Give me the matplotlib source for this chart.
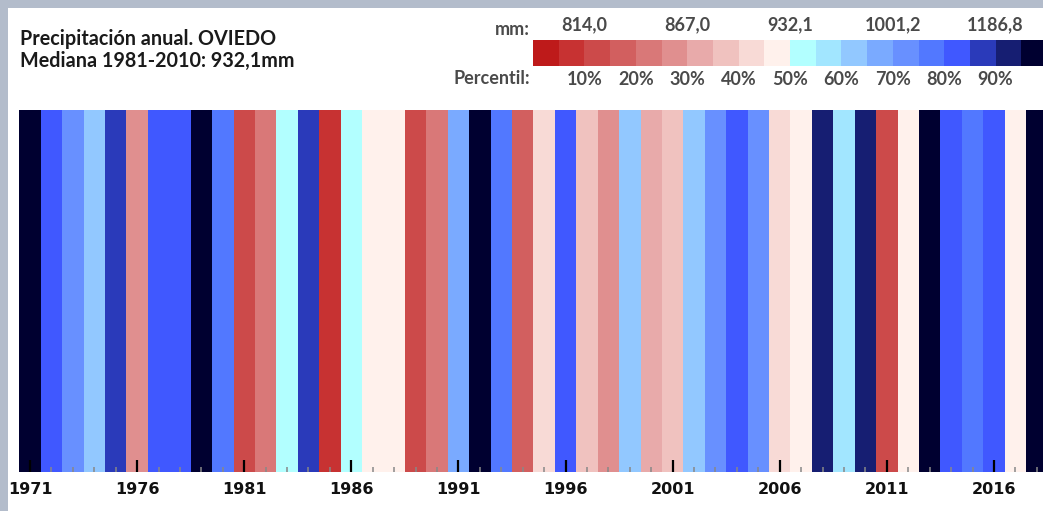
import matplotlib
matplotlib.use("Agg")
import matplotlib.pyplot as plt
from matplotlib.patches import Rectangle


# -----------------------------
# Data
# -----------------------------

years = list(range(1971, 2019))

# percentile class per year: 0 = driest (0-5%), 19 = wettest (95-100%)
year_class = [
    19, 16, 14, 12, 17, 5, 16, 16, 19, 15,
    2, 4, 10, 17, 1, 10, 9, 9, 2, 4,
    13, 19, 15, 3, 8, 16, 7, 5, 12, 6,
    7, 12, 14, 16, 14, 8, 9, 18, 11, 18,
    2, 9, 19, 16, 15, 16, 9, 19,
]

class_colors = [
    "#be1a1a", "#c73232", "#cc4a4a", "#d25f5f", "#d97878",
    "#e08f8f", "#e8aaaa", "#f0c2bf", "#f8dad6", "#fff1ec",
    "#b2ffff", "#a2e6ff", "#92c8ff", "#7aaaff", "#6890ff",
    "#5278ff", "#4058ff", "#2a3aba", "#161e72", "#000030",
]

mm_labels = ["814,0", "867,0", "932,1", "1001,2", "1186,8"]
mm_pos = [2, 6, 10, 14, 18]

pct_labels = ["10%", "20%", "30%", "40%", "50%", "60%", "70%", "80%", "90%"]
pct_pos = [2, 4, 6, 8, 10, 12, 14, 16, 18]

title1 = "Precipitación anual. OVIEDO"
title2 = "Mediana 1981-2010: 932,1mm"


W, H = 1043, 511

fig = plt.figure(figsize=(W / 100, H / 100), dpi=100)
fig.patch.set_facecolor("#b3bccb")

# white panel
fig.patches.append(Rectangle((8 / W, 0), 1, (H - 8) / H,
                             transform=fig.transFigure,
                             facecolor="white", edgecolor="none", zorder=-5))


# -----------------------------
# Stripes
# -----------------------------

ax = fig.add_axes([19.3 / W, (H - 472) / H, (1047.5 - 19.3) / W, (472 - 110) / H])

ax.bar(years, [1] * len(years), width=1.0,
       color=[class_colors[c] for c in year_class],
       edgecolor="none", align="center")

ax.set_xlim(1970.5, 2018.5)
ax.set_ylim(0, 1)
ax.set_yticks([])
ax.set_xticks(range(1971, 2019, 5))
ax.set_xticks(years, minor=True)
ax.tick_params(axis="x", which="major", direction="in", length=9,
               width=1.6, color="black", pad=7,
               labelsize=11.5)
ax.tick_params(axis="x", which="minor", direction="in", length=3.8,
               width=1.1, color="#888888")
for lab in ax.get_xticklabels():
    lab.set_fontweight("bold")
    lab.set_color("#111111")
for s in ax.spines.values():
    s.set_visible(False)
ax.patch.set_alpha(0)


# -----------------------------
# Legend colour bar
# -----------------------------

cax = fig.add_axes([533 / W, (H - 66) / H, (1047 - 533) / W, 26 / H])
cax.bar(range(20), [1] * 20, width=1.0, align="edge",
        color=class_colors, edgecolor="none")
cax.set_xlim(0, 20)
cax.set_ylim(0, 1)
cax.axis("off")

txt_font = dict(family="Lato", color="#4a4a4a", fontsize=13, fontweight="bold")

for p, t in zip(mm_pos, mm_labels):
    cax.text(p, 1.25, t, ha="center", va="bottom", **txt_font)

for p, t in zip(pct_pos, pct_labels):
    cax.text(p, -0.2, t, ha="center", va="top", **txt_font)

fig.text(530 / W, (H - 35) / H, "mm:", ha="right", va="baseline", **txt_font)
fig.text(530 / W, (H - 84) / H, "Percentil:", ha="right", va="baseline", **txt_font)


# -----------------------------
# Title
# -----------------------------

fig.text(20 / W, (H - 45) / H, title1, ha="left", va="baseline",
         family="Lato", fontweight="bold", fontsize=14.2, color="#1a1a1a")
fig.text(20 / W, (H - 67) / H, title2, ha="left", va="baseline",
         family="Lato", fontweight="bold", fontsize=14.2, color="#1a1a1a")


fig.savefig("out.png", dpi=100, facecolor=fig.get_facecolor())
